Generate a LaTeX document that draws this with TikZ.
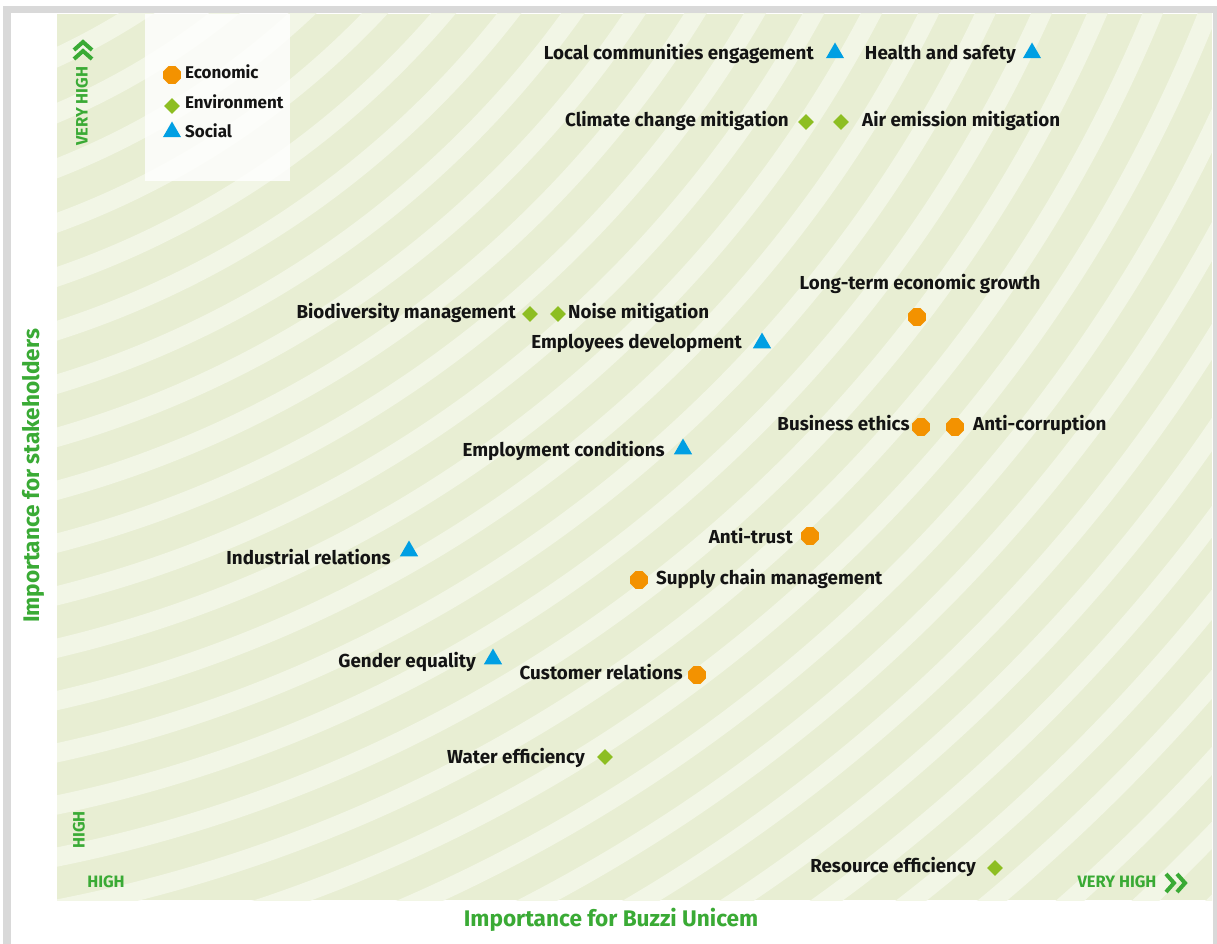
\documentclass[tikz,border=0pt]{standalone}
\usepackage{fontspec}
\setmainfont{Fira Sans}
\usetikzlibrary{shapes.geometric}
\definecolor{stripeDark}{RGB}{232,238,211}
\definecolor{stripeLight}{RGB}{242,246,230}
\definecolor{frameGray}{RGB}{217,217,217}
\definecolor{axisGreen}{RGB}{58,170,53}
\definecolor{ecoOrange}{RGB}{243,146,0}
\definecolor{envGreen}{RGB}{141,190,34}
\definecolor{socBlue}{RGB}{0,159,227}
\begin{document}
\begin{tikzpicture}[x=1pt,y=-1pt,
  eco/.style={regular polygon, regular polygon sides=8, fill=ecoOrange, minimum size=19pt, inner sep=0pt},
  env/.style={diamond, fill=envGreen, minimum width=16pt, minimum height=16pt, inner sep=0pt},
  soc/.style={regular polygon, regular polygon sides=3, fill=socBlue, minimum size=21pt, inner sep=0pt},
  lbl/.style={font=\fontsize{18.8}{22}\selectfont\bfseries, text=black!92, inner sep=0pt},
  leg/.style={font=\fontsize{17}{20}\selectfont\bfseries, text=black!92, inner sep=0pt, anchor=mid west},
  axl/.style={font=\fontsize{16.5}{19}\selectfont\bfseries, text=axisGreen, inner sep=0pt},
  axt/.style={font=\fontsize{22.6}{26}\selectfont\bfseries, text=axisGreen, inner sep=0pt},
  chev/.style={draw=axisGreen, line width=4pt, line cap=butt, line join=miter}]
\useasboundingbox (0,0) rectangle (1217,944);
% frame
\fill[frameGray] (3,6) rectangle (1217,944);
\fill[white] (11,13) rectangle (1213,944);
% striped background
\begin{scope}
  \clip (57,14) rectangle (1212,900);
  \fill[stripeDark] (57,14) rectangle (1212,900);
  \foreach \k in {0,...,29} {
    \pgfmathsetmacro\r{629.5+51*\k}
    \draw[stripeLight, line width=19pt] (-230,-560) circle[radius=\r pt];
  }
\end{scope}
% legend
\fill[white, opacity=0.82] (145,14) rectangle (290,181);
\node[eco] (legeco) at (172,75) {};
\node[leg] (legecot) at (185,76) {Economic};
\node[env] (legenv) at (172,106) {};
\node[leg] (legenvt) at (185,106) {Environment};
\node[soc] (legsoc) at (172,132) {};
\node[leg] (legsoct) at (185,135) {Social};
% axes annotations
\node[axl, rotate=90] (vhy) at (82,106) {VERY HIGH};
\draw[chev] (74,50) -- (83,42) -- (92,50);
\draw[chev] (74,59) -- (83,51) -- (92,59);
\node[axl, rotate=90] (hy) at (79,830) {HIGH};
\node[axl] (hx) at (106,882) {HIGH};
\node[axl] (vhx) at (1117,882) {VERY HIGH};
\draw[chev] (1166,874) -- (1174,883) -- (1166,892);
\draw[chev] (1177,874) -- (1185,883) -- (1177,892);
\node[axt] (xt) at (611,920) {Importance for Buzzi Unicem};
\node[axt, rotate=90] (yt) at (33,476) {Importance for stakeholders};
% items
\node[soc] (lce) at (835,53) {};
\node[lbl, anchor=mid east] (lcet) at (814,57) {Local communities engagement};
\node[soc] (hs) at (1032,53) {};
\node[lbl, anchor=mid east] (hst) at (1016,57) {Health and safety};
\node[env] (ccm) at (806,122) {};
\node[lbl, anchor=mid east] (ccmt) at (789,124) {Climate change mitigation};
\node[env] (aem) at (841,122) {};
\node[lbl, anchor=mid west] (aemt) at (862,124) {Air emission mitigation};
\node[eco] (lteg) at (917,317) {};
\node[lbl, anchor=mid] (ltegt) at (920,287) {Long-term economic growth};
\node[env] (bm) at (530,314) {};
\node[lbl, anchor=mid east] (bmt) at (516,316) {Biodiversity management};
\node[env] (nm) at (558,314) {};
\node[lbl, anchor=mid west] (nmt) at (568,316) {Noise mitigation};
\node[soc] (ed) at (762,343) {};
\node[lbl, anchor=mid east] (edt) at (742,346) {Employees development};
\node[eco] (be) at (921,427) {};
\node[lbl, anchor=mid east] (bet) at (910,428) {Business ethics};
\node[eco] (ac) at (955,427) {};
\node[lbl, anchor=mid west] (act) at (973,428) {Anti-corruption};
\node[soc] (ec) at (683,449) {};
\node[lbl, anchor=mid east] (ect) at (665,454) {Employment conditions};
\node[eco] (at) at (810,536) {};
\node[lbl, anchor=mid east] (att) at (793,541) {Anti-trust};
\node[soc] (ir) at (409,551) {};
\node[lbl, anchor=mid east] (irt) at (391,562) {Industrial relations};
\node[eco] (scm) at (639,580) {};
\node[lbl, anchor=mid west] (scmt) at (656,582) {Supply chain management};
\node[soc] (ge) at (493,659) {};
\node[lbl, anchor=mid east] (get) at (476,665) {Gender equality};
\node[eco] (cr) at (697,675) {};
\node[lbl, anchor=mid east] (crt) at (683,677) {Customer relations};
\node[env] (we) at (605,757) {};
\node[lbl, anchor=mid east] (wet) at (585,761) {Water efficiency};
\node[env] (re) at (995,868) {};
\node[lbl, anchor=mid east] (ret) at (976,870) {Resource efficiency};
\end{tikzpicture}
\end{document}
